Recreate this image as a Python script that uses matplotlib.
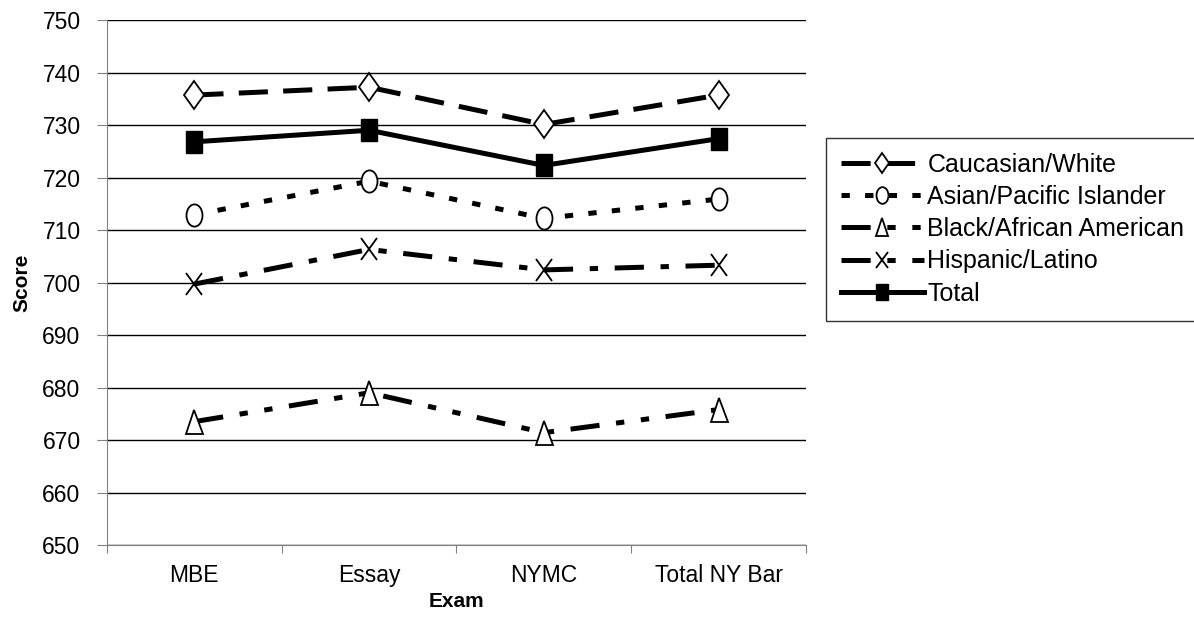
import matplotlib.pyplot as plt
from matplotlib.markers import MarkerStyle
from matplotlib.transforms import Affine2D

plt.rcParams['font.family'] = ['Liberation Sans', 'DejaVu Sans']
plt.rcParams['lines.scale_dashes'] = False

exams = ["MBE", "Essay", "NYMC", "Total NY Bar"]
white = [735.7, 737.2, 730.1, 735.7]
asian = [712.9, 719.3, 712.2, 715.9]
black = [673.5, 679.0, 671.4, 675.8]
hispanic = [699.7, 706.3, 702.4, 703.3]
total = [726.8, 729.0, 722.3, 727.4]

x = list(range(len(exams)))


def tall(m):
    return MarkerStyle(m, transform=Affine2D().scale(0.72, 1.0))


fig = plt.figure(figsize=(11.94, 6.35), dpi=100)
ax = fig.add_axes([0.0896, 0.1417, 0.5854, 0.8268])

lw = 3.6
ax.plot(x, white, color="black", lw=lw, linestyle=(0, (21, 11)),
        marker=tall("D"), ms=14, mfc="white", mec="black", mew=1.3,
        label="Caucasian/White")
ax.plot(x, asian, color="black", lw=lw, linestyle=(0, (6, 11)),
        marker=tall("o"), ms=16, mfc="white", mec="black", mew=1.3,
        label="Asian/Pacific Islander")
ax.plot(x, black, color="black", lw=lw, linestyle=(0, (21, 12, 6, 12, 6, 12)),
        marker=tall("^"), ms=17, mfc="white", mec="black", mew=1.3,
        label="Black/African American")
ax.plot(x, hispanic, color="black", lw=lw, linestyle=(0, (21, 12, 6, 12)),
        marker=tall("x"), ms=16, mfc="white", mec="black", mew=1.3,
        label="Hispanic/Latino")
ax.plot(x, total, color="black", lw=lw, linestyle="-",
        marker=tall("s"), ms=16, mfc="black", mec="black",
        label="Total")

ax.set_xlim(-0.5, 3.5)
ax.set_ylim(650, 750)
ax.set_yticks(range(650, 751, 10))
ax.yaxis.grid(True, color="black", lw=1)
ax.set_axisbelow(True)

ax.set_xticks([-0.5, 0.5, 1.5, 2.5, 3.5])
ax.set_xticklabels([])
ax.set_xticks(x, minor=True)
ax.set_xticklabels(exams, minor=True)
ax.tick_params(axis="x", which="minor", length=0, pad=14, labelsize=16.5)
ax.tick_params(axis="x", which="major", length=6, color="#808080")
ax.tick_params(axis="y", length=7, color="#808080", labelsize=16.5, pad=12)

for s in ["top", "right"]:
    ax.spines[s].set_visible(False)
ax.spines["left"].set_color("#808080")
ax.spines["bottom"].set_color("#808080")

ax.set_xlabel("Exam", fontsize=15, fontweight="bold", labelpad=3)
ax.set_ylabel("Score", fontsize=15, fontweight="bold", labelpad=8)

leg = fig.legend(loc="center left", bbox_to_anchor=(0.692, 0.639),
                 fontsize=18, handlelength=3.3, handletextpad=0.15,
                 labelspacing=0.33, fancybox=False, frameon=True,
                 borderaxespad=0, borderpad=0.6, markerscale=0.75)
leg.get_frame().set_edgecolor("black")
leg.get_frame().set_linewidth(1)

fig.savefig("out.png", dpi=100)
